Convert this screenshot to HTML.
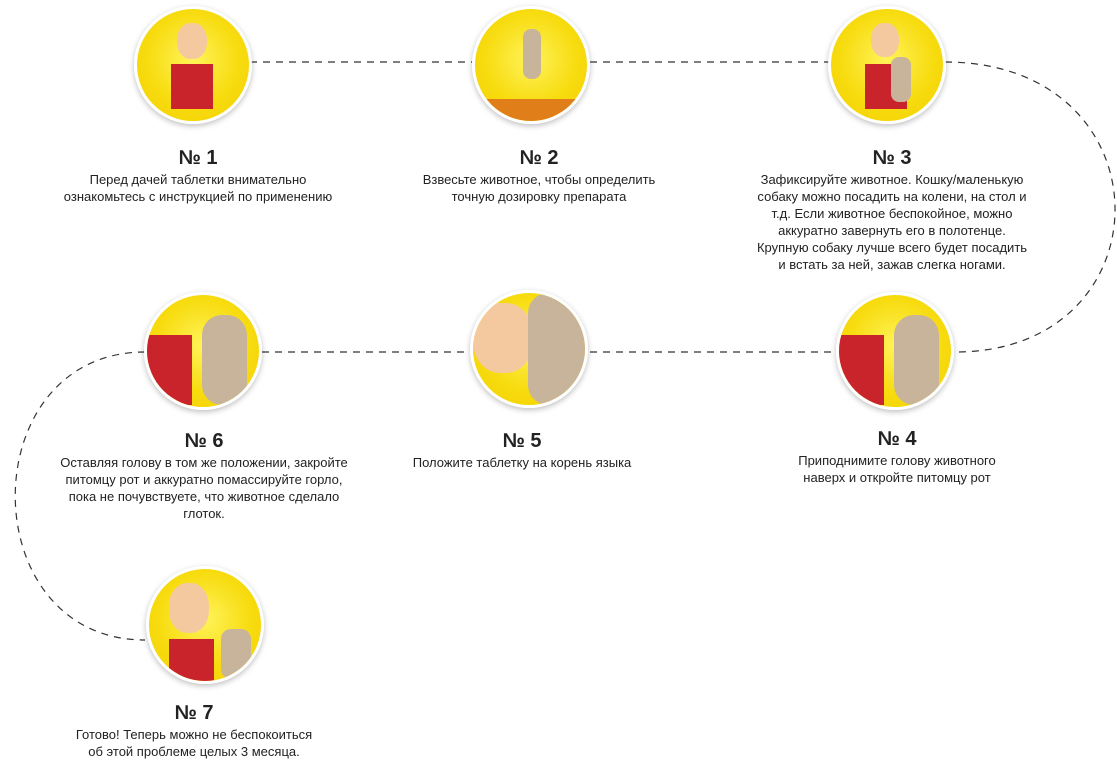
<!DOCTYPE html><html><head><meta charset="utf-8"><style>
body{margin:0;width:1117px;height:758px;background:#fff;position:relative;overflow:hidden;font-family:"Liberation Sans","DejaVu Sans",sans-serif;color:#222}
.c{position:absolute;width:112px;height:112px;border-radius:50%;border:3px solid #fff;box-shadow:0 2px 6px rgba(0,0,0,.25);background:radial-gradient(circle at 50% 45%,#fff35a 0%,#f7dc10 55%,#f2cf00 100%);overflow:hidden}
.t{position:absolute;text-align:center;font-size:13px;line-height:17px;width:340px}
.t b{display:block;font-size:20px;line-height:24px;margin-bottom:1px}
.red{position:absolute;background:#c9242b}
.cat{position:absolute;background:#c8b49a}
.face{position:absolute;background:#f4c9a0;border-radius:45%}
</style></head><body>
<svg width="1117" height="758" style="position:absolute;left:0;top:0">
<g fill="none" stroke="#333" stroke-width="1.2" stroke-dasharray="7,6">
<line x1="250" y1="62" x2="472" y2="62"/><line x1="590" y1="62" x2="830" y2="62"/>
<path d="M945 62 C1170 62 1170 352 955 352"/>
<line x1="262" y1="352" x2="470" y2="352"/><line x1="590" y1="352" x2="835" y2="352"/>
<path d="M145 352 C-28 352 -28 640 145 640"/>
</g></svg>
<div class="c" style="left:134px;top:6px"><div class="face" style="left:40px;top:14px;width:30px;height:36px"></div><div class="red" style="left:34px;top:55px;width:42px;height:45px"></div></div>
<div class="c" style="left:472px;top:6px"><div class="cat" style="left:48px;top:20px;width:18px;height:50px;border-radius:8px"></div><div style="position:absolute;left:0;top:90px;width:120px;height:30px;background:#e07f1a"></div></div>
<div class="c" style="left:828px;top:6px"><div class="face" style="left:40px;top:14px;width:28px;height:34px"></div><div class="red" style="left:34px;top:55px;width:42px;height:45px"></div><div class="cat" style="left:60px;top:48px;width:20px;height:45px;border-radius:8px"></div></div>
<div class="c" style="left:836px;top:292px"><div class="red" style="left:0;top:40px;width:45px;height:70px"></div><div class="cat" style="left:55px;top:20px;width:45px;height:90px;border-radius:20px"></div></div>
<div class="c" style="left:470px;top:290px"><div class="face" style="left:0;top:10px;width:60px;height:70px"></div><div class="cat" style="left:55px;top:0;width:65px;height:112px;border-radius:20px"></div></div>
<div class="c" style="left:144px;top:292px"><div class="red" style="left:0;top:40px;width:45px;height:70px"></div><div class="cat" style="left:55px;top:20px;width:45px;height:90px;border-radius:20px"></div></div>
<div class="c" style="left:146px;top:566px"><div class="face" style="left:20px;top:14px;width:40px;height:50px"></div><div class="red" style="left:20px;top:70px;width:45px;height:45px"></div><div class="cat" style="left:72px;top:60px;width:30px;height:50px;border-radius:10px"></div></div>
<div class="t" style="left:28px;top:146px"><b>№ 1</b>Перед дачей таблетки внимательно<br>ознакомьтесь с инструкцией по применению</div>
<div class="t" style="left:369px;top:146px"><b>№ 2</b>Взвесьте животное, чтобы определить<br>точную дозировку препарата</div>
<div class="t" style="left:722px;top:146px"><b>№ 3</b>Зафиксируйте животное. Кошку/маленькую<br>собаку можно посадить на колени, на стол и<br>т.д. Если животное беспокойное, можно<br>аккуратно завернуть его в полотенце.<br>Крупную собаку лучше всего будет посадить<br>и встать за ней, зажав слегка ногами.</div>
<div class="t" style="left:727px;top:427px"><b>№ 4</b>Приподнимите голову животного<br>наверх и откройте питомцу рот</div>
<div class="t" style="left:352px;top:429px"><b>№ 5</b>Положите таблетку на корень языка</div>
<div class="t" style="left:34px;top:429px"><b>№ 6</b>Оставляя голову в том же положении, закройте<br>питомцу рот и аккуратно помассируйте горло,<br>пока не почувствуете, что животное сделало<br>глоток.</div>
<div class="t" style="left:24px;top:701px"><b>№ 7</b>Готово! Теперь можно не беспокоиться<br>об этой проблеме целых 3 месяца.</div>
</body></html>
